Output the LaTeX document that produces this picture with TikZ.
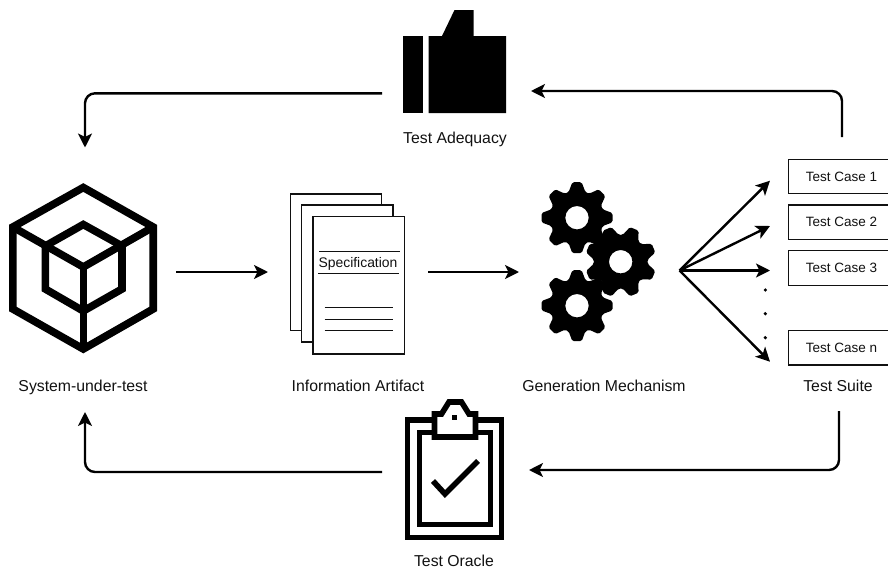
\documentclass[tikz,border=0pt]{standalone}
\usepackage{fontspec}
\setmainfont{Liberation Sans}
\usetikzlibrary{arrows.meta}
\definecolor{ink}{HTML}{000000}
\definecolor{soft}{HTML}{111111}
\tikzset{
  flow/.style={draw=ink,line width=2.4pt,rounded corners=10pt,-{Stealth[length=14pt,width=14pt,inset=3.5pt]}},
  fan/.style={draw=ink,line width=2.4pt,-{Stealth[length=14pt,width=14pt,inset=3.5pt]}},
  label/.style={inner sep=0pt,text=soft,font=\fontsize{15.8}{18}\selectfont},
  casebox/.style={draw=soft,line width=1.1pt,fill=white,minimum width=106pt,minimum height=34.4pt,inner sep=0pt,text=soft,font=\fontsize{13.5}{16}\selectfont},
  page/.style={draw=soft,line width=1.3pt,fill=white},
  rule/.style={draw=soft,line width=1.2pt},
  icon/.style={line width=7.6pt,draw=ink,line join=miter},
  clip board/.style={line width=5.6pt,draw=ink,line join=miter},
  blackfill/.style={fill=ink,draw=none},
  dotmark/.style={fill=ink,draw=none,circle,minimum size=3.6pt,inner sep=0pt},
}
\newcommand{\gearshape}[3]{%
  \fill[ink,even odd rule,shift={(#1,#2)}]
    [rounded corners=1.6pt]
    (#3-18:27) -- (#3-7.5:35.8) -- (#3+7.5:35.8) -- (#3+18:27)
    -- (#3+45-18:27) -- (#3+45-7.5:35.8) -- (#3+45+7.5:35.8) -- (#3+45+18:27)
    -- (#3+90-18:27) -- (#3+90-7.5:35.8) -- (#3+90+7.5:35.8) -- (#3+90+18:27)
    -- (#3+135-18:27) -- (#3+135-7.5:35.8) -- (#3+135+7.5:35.8) -- (#3+135+18:27)
    -- (#3+180-18:27) -- (#3+180-7.5:35.8) -- (#3+180+7.5:35.8) -- (#3+180+18:27)
    -- (#3+225-18:27) -- (#3+225-7.5:35.8) -- (#3+225+7.5:35.8) -- (#3+225+18:27)
    -- (#3+270-18:27) -- (#3+270-7.5:35.8) -- (#3+270+7.5:35.8) -- (#3+270+18:27)
    -- (#3+315-18:27) -- (#3+315-7.5:35.8) -- (#3+315+7.5:35.8) -- (#3+315+18:27)
    -- cycle
    [sharp corners] (0,0) circle[radius=11.7];
}
\begin{document}
\begin{tikzpicture}[x=1pt,y=-1pt]
\useasboundingbox (0,0) rectangle (888,570);
\clip (0,0) rectangle (888,570);

% thumb
\fill[blackfill] (403,36) rectangle (422.5,113);
\fill[blackfill] (428.5,36) -- (442,36) -- (454.5,10) -- (473.5,10) -- (473.5,36) -- (506,36) -- (506,113) -- (428.5,113) -- cycle;

% cube
\draw[icon] (83.3,187.5) -- (153.2,227) -- (153.2,309) -- (83.3,349) -- (12.8,309) -- (12.8,227) -- cycle;
\draw[icon] (83.3,224.5) -- (122,246) -- (122,289) -- (83.3,311) -- (45.3,289) -- (45.3,246) -- cycle;
\draw[icon] (12.8,227) -- (83.3,267) -- (153.2,227);
\draw[icon] (83.3,267) -- (83.3,349);

% pages
\draw[page] (290.3,194) rectangle (381.7,330.7);
\draw[page] (301.7,205) rectangle (393,342);
\draw[page] (313,216.7) rectangle (404.7,354);
\draw[rule] (319,251.7) -- (400,251.7);
\draw[rule] (318,273.7) -- (399,273.7);
\draw[rule] (324.7,307.7) -- (393,307.7);
\draw[rule] (324.7,319.3) -- (393,319.3);
\draw[rule] (324.7,330.7) -- (393,330.7);
\node[inner sep=0pt,text=soft,font=\fontsize{13.9}{16}\selectfont] (spec) at (358,264) {Specification};

% gears
\gearshape{577}{217.7}{90}
\gearshape{577}{305.7}{90}
\gearshape{620.7}{261.7}{67.5}

% clipboard
\draw[clip board] (407.5,420) rectangle (501.5,537.5);
\draw[clip board] (419.5,432.5) rectangle (490.5,524.5);
\draw[clip board,fill=white] (434.5,437) -- (434.5,414) -- (441.5,414) -- (449,402) -- (461.5,402) -- (469,414) -- (475.5,414) -- (475.5,437) -- cycle;
\fill[blackfill] (452,414.5) rectangle (456.5,419.5);
\draw[clip board,line join=miter] (433,481) -- (445,494) -- (478,461);

% labels
\node[label] (adequacy) at (455,139) {Test Adequacy};
\node[label] (sut) at (83,387.5) {System-under-test};
\node[label] (artifact) at (358,386) {Information Artifact};
\node[label] (generation) at (604,386) {Generation Mechanism};
\node[label] (suite) at (838,386) {Test Suite};
\node[label] (oracle) at (454,561) {Test Oracle};

% test cases
\node[casebox] (tc1) at (841.4,176.5) {Test Case 1};
\node[casebox] (tc2) at (841.4,222.2) {Test Case 2};
\node[casebox] (tc3) at (841.4,268) {Test Case 3};
\node[casebox] (tcn) at (841.4,347.8) {Test Case n};
\node[dotmark] (d1) at (765.3,290) {};
\node[dotmark] (d2) at (765.3,313.7) {};
\node[dotmark] (d3) at (765.3,337.7) {};

% connector ends
\coordinate (cubeOut) at (176,272);
\coordinate (docIn) at (268,272);
\coordinate (docOut) at (428,272);
\coordinate (gearIn) at (519,272);
\coordinate (hub) at (679.5,270.5);
\coordinate (f1) at (770,180.7);
\coordinate (f2) at (770,226);
\coordinate (f3) at (770,270.5);
\coordinate (fn) at (770,361.7);
\coordinate (suiteTop) at (842,137);
\coordinate (thumbIn) at (531,91);
\coordinate (thumbOut) at (382,93.3);
\coordinate (sutIn) at (85,147.5);
\coordinate (suiteBot) at (839,411);
\coordinate (oracleIn) at (529,470);
\coordinate (oracleOut) at (382,472);
\coordinate (sutBot) at (85,412);

\draw[fan] (cubeOut) -- (docIn);
\draw[fan] (docOut) -- (gearIn);
\draw[fan] (hub) -- (f1);
\draw[fan] (hub) -- (f2);
\draw[fan] (hub) -- (f3);
\draw[fan] (hub) -- (fn);
\draw[flow] (suiteTop) |- (thumbIn);
\draw[flow] (thumbOut) -| (sutIn);
\draw[flow] (suiteBot) |- (oracleIn);
\draw[flow] (oracleOut) -| (sutBot);
\end{tikzpicture}
\end{document}
